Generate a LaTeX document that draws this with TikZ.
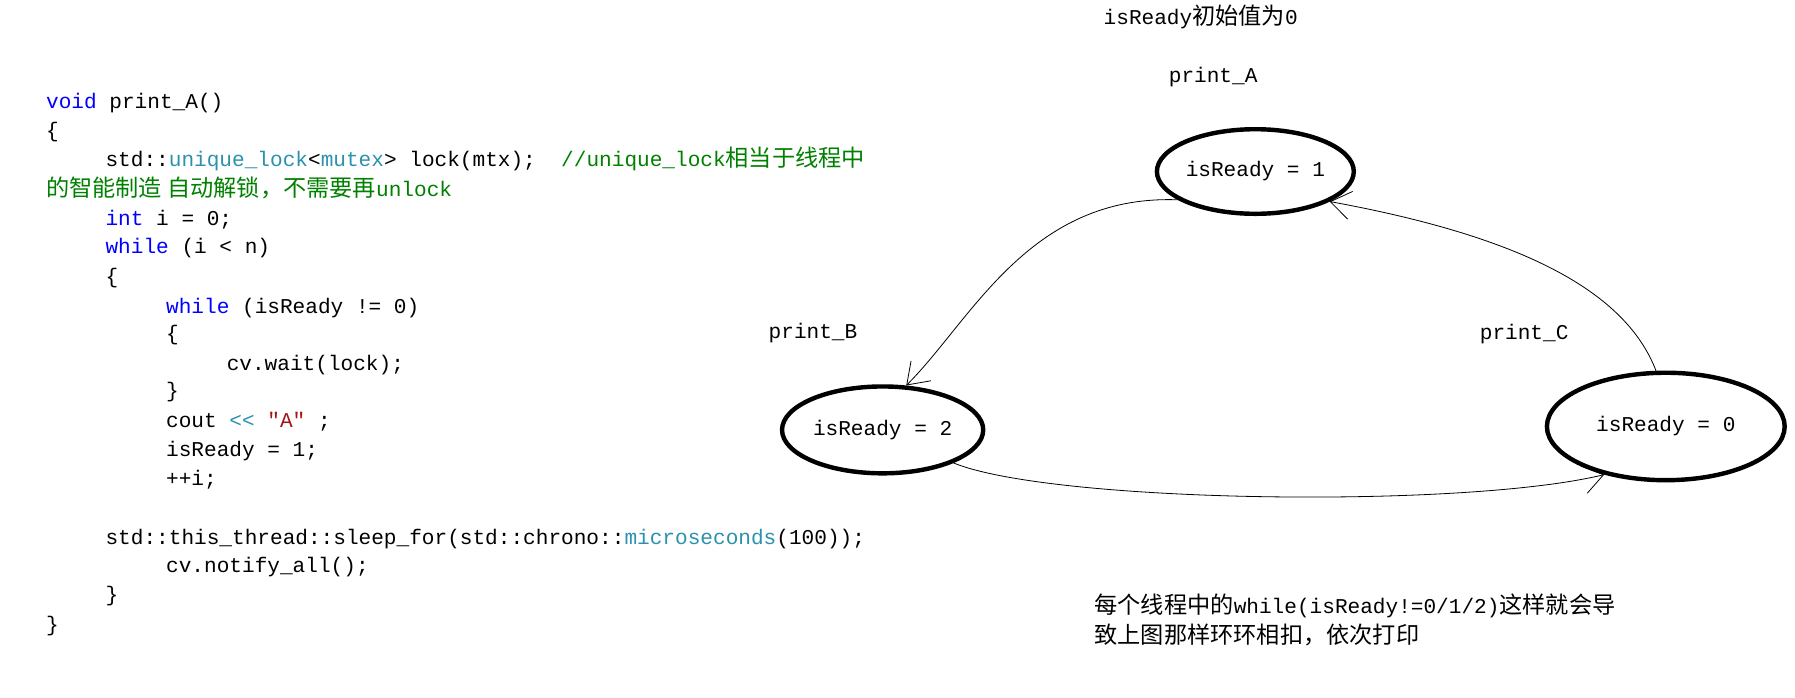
\documentclass[tikz,border=0pt]{standalone}
\usepackage{fontspec}
\usepackage{xcolor}
\setmonofont{Liberation Mono}
\newfontfamily\cjk[Scale=1.1]{Noto Sans CJK SC}
\usetikzlibrary{arrows.meta,shapes.geometric}
\definecolor{kw}{RGB}{0,0,255}
\definecolor{ty}{RGB}{43,145,175}
\definecolor{cm}{RGB}{0,128,0}
\definecolor{st}{RGB}{163,21,21}
\tikzset{
  code/.style={anchor=base west, inner sep=0pt, font=\ttfamily\fontsize{10.5}{12}\selectfont},
  state/.style={draw, ellipse, line width=2.2pt, inner sep=0pt, font=\ttfamily\fontsize{10.5}{12}\selectfont},
  flow/.style={thin, -{Straight Barb[length=10pt, width=14pt]}}
}
\begin{document}
\begin{tikzpicture}[x=0.02cm, y=-0.02cm]
    \useasboundingbox (0,0) rectangle (1570,610);
    % code of print_A
    \node[code] (l1) at (40,95) {\textcolor{kw}{void} print\_A()};
    \node[code] (l2) at (40,120) {\{};
    \node[code] (l3) at (92,146) {std::\textcolor{ty}{unique\_lock}<\textcolor{ty}{mutex}> lock(mtx);\ \ \textcolor{cm}{//unique\_lock{\cjk 相当于线程中}}};
    \node[code] (l4) at (40,172) {\textcolor{cm}{{\cjk 的智能制造 自动解锁，不需要再}unlock}};
    \node[code] (l5) at (92,197) {\textcolor{kw}{int} i = 0;};
    \node[code] (l6) at (92,222) {\textcolor{kw}{while} (i < n)};
    \node[code] (l7) at (92,248) {\{};
    \node[code] (l8) at (145,274) {\textcolor{kw}{while} (isReady != 0)};
    \node[code] (l9) at (145,298) {\{};
    \node[code] (l10) at (198,324) {cv.wait(lock);};
    \node[code] (l11) at (145,348) {\}};
    \node[code] (l12) at (145,374) {cout \textcolor{ty}{<<} \textcolor{st}{"A"} ;};
    \node[code] (l13) at (145,399) {isReady = 1;};
    \node[code] (l14) at (145,425) {++i;};
    \node[code] (l15) at (92,476) {std::this\_thread::sleep\_for(std::chrono::\textcolor{ty}{microseconds}(100));};
    \node[code] (l16) at (145,501) {cv.notify\_all();};
    \node[code] (l17) at (92,526) {\}};
    \node[code] (l18) at (40,552) {\}};

    % state diagram
    \node[code] (title) at (965,21) {isReady{\cjk 初始值为}0};
    \node[code] (nameA) at (1022,72) {print\_A};
    \node[code] (nameB) at (672,296) {print\_B};
    \node[code] (nameC) at (1294,297) {print\_C};
    \node[state, minimum width=2.92cm, minimum height=1.48cm] (A) at (1098,150) {isReady = 1};
    \node[state, minimum width=3.52cm, minimum height=1.52cm] (B) at (772,376) {isReady = 2};
    \node[state, minimum width=4.16cm, minimum height=1.88cm] (C) at (1457,373) {isReady = 0};

    % arrows
    \draw[flow] (A.200) .. controls (900,170) and (850,280) .. (B.62);
    \draw[flow] (B.-25) .. controls (920,440) and (1280,445) .. (C.218);
    \draw[flow] (C.100) .. controls (1420,250) and (1320,205) .. (A.-22);

    % note
    \node[code] (n1) at (957,537) {{\cjk 每个线程中的}while(isReady!=0/1/2){\cjk 这样就会导}};
    \node[code] (n2) at (957,563) {{\cjk 致上图那样环环相扣，依次打印}};
\end{tikzpicture}
\end{document}
